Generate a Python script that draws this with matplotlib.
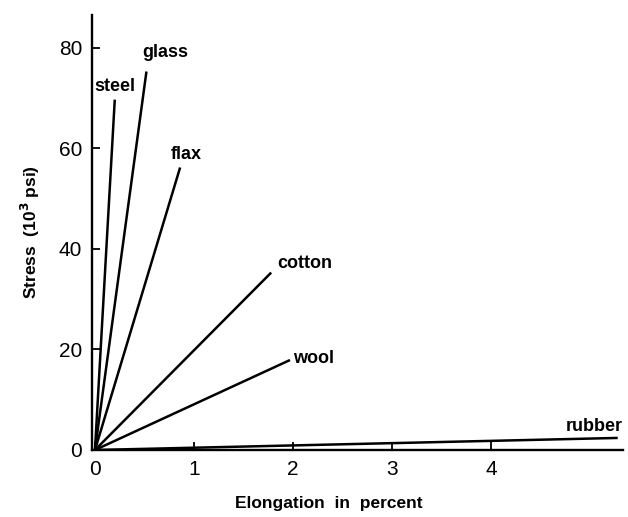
import matplotlib
matplotlib.use("Agg")
import matplotlib.pyplot as plt

# data: end points of each stress-strain line (start at origin)
materials = ["steel", "glass", "flax", "cotton", "wool", "rubber"]
elong_end = [0.20, 0.52, 0.86, 1.78, 1.97, 5.28]
stress_end = [69.7, 75.3, 56.2, 35.3, 17.9, 2.4]

# label anchor positions (data units)
label_x = [0.20, 0.71, 0.92, 1.84, 2.00, 5.33]
label_y = [72.3, 79.0, 58.8, 37.2, 18.3, 4.6]
label_ha = ["center", "center", "center", "left", "left", "right"]

xticks = [0, 1, 2, 3, 4]
yticks = [0, 20, 40, 60, 80]

plt.rcParams['font.family'] = ['Liberation Sans', 'DejaVu Sans']

fig = plt.figure(figsize=(6.28, 5.17), dpi=100)
ax = fig.add_axes([0.1465, 0.1296, 0.845, 0.842])

for name, xe, ye in zip(materials, elong_end, stress_end):
    ax.plot([0, xe], [0, ye], color="black", lw=1.8, solid_capstyle="butt")

for name, lx, ly, ha in zip(materials, label_x, label_y, label_ha):
    ax.text(lx, ly, name, ha=ha, va="center", fontsize=13, fontweight="bold")

ax.set_xlim(-0.03, 5.33)
ax.set_ylim(0, 86.6)
ax.set_xticks(xticks)
ax.set_yticks(yticks)
ax.spines["top"].set_visible(False)
ax.spines["right"].set_visible(False)
ax.spines["left"].set_linewidth(1.7)
ax.spines["bottom"].set_linewidth(1.7)
ax.tick_params(direction="in", length=6, width=1.3, labelsize=15, pad=7)

ax.set_xlabel("Elongation  in  percent", fontsize=12.5, fontweight="bold")
ax.xaxis.set_label_coords(0.446, -0.105)
ax.set_ylabel("Stress  (10$^\\mathbf{3}$ psi)", fontsize=12.5, fontweight="bold", labelpad=12)

fig.savefig("out.png", dpi=100)
